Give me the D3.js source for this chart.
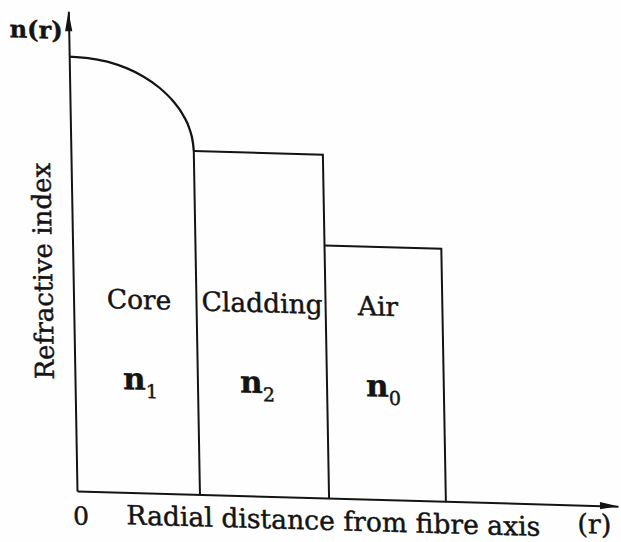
<!DOCTYPE html>
<html>
<head>
<meta charset="utf-8">
<script src="https://cdn.jsdelivr.net/npm/d3@7"></script>
<style>
  html, body { margin: 0; padding: 0; background: #fefefe; }
  svg { display: block; }
  text { font-family: "DejaVu Serif", "Liberation Serif", serif; fill: #141414; stroke: #141414; stroke-width: 0.45px; }
</style>
</head>
<body>
<svg id="chart" width="621" height="542"></svg>
<script>
// Refractive index profile across a fibre: graded-index core, step cladding, then air.
const regions = ["Core", "Cladding", "Air"];
const indexSymbol = "n";
const indexSubscripts = ["1", "2", "0"];
const regionOuterRadius = [1.00, 2.05, 3.00];   // r at the outer edge of each region
const regionIndex = [1.72, 1.36, 1.00];         // n of each region (core: on axis)

// Core profile n(r), falling from the axis value to the cladding value at r = 1
const coreRadius = [0, 0.19, 0.33, 0.47, 0.60, 0.73, 0.84, 0.92, 0.97, 0.995, 1.00];
const coreIndex  = [1.72, 1.714, 1.702, 1.68, 1.65, 1.607, 1.555, 1.50, 1.445, 1.39, 1.36];

const rTicks = [0];
const rMax = 4.40;
const nMax = 1.90;

const axisTitleY = "Refractive index";
const axisTitleX = "Radial distance from fibre axis";
const axisSymbolY = "n(r)";
const axisSymbolX = "(r)";

// ---- layout ----
const ink = "#141414";
const origin = { x: 77, y: 491 };
const svg = d3.select("#chart");

const x = d3.scaleLinear().domain([0, rMax]).range([origin.x, 618]);
const y = d3.scaleLinear().domain([0, nMax]).range([origin.y, 11.25]);

// the printed figure is slightly sheared; keep that slant
const g = svg.append("g")
  .attr("transform", `translate(${origin.x},${origin.y}) matrix(1,0.028,0.018,1,0,0) translate(${-origin.x},${-origin.y})`);

// ---- axes ----
const xAxis = d3.axisBottom(x).tickValues(rTicks).tickSize(0).tickSizeOuter(0)
  .tickPadding(16).tickFormat(d3.format("d"));
const gx = g.append("g").attr("transform", `translate(0,${y(0)})`).call(xAxis);
gx.attr("font-family", null).attr("font-size", null);
gx.select(".domain").attr("stroke", ink).attr("stroke-width", 2);
gx.selectAll(".tick text").attr("fill", ink).attr("font-size", 25).attr("dx", 3);

const yAxis = d3.axisLeft(y).tickValues([]).tickSizeOuter(0);
const gy = g.append("g").attr("transform", `translate(${x(0)},0)`).call(yAxis);
gy.select(".domain").attr("stroke", ink).attr("stroke-width", 2);

// arrowheads
g.append("polygon")
  .attr("points", [[x(rMax), y(0)], [x(rMax) - 18, y(0) - 3.6], [x(rMax) - 18, y(0) + 3.6]].join(" "))
  .attr("fill", ink);
g.append("polygon")
  .attr("points", [[x(0), y(nMax)], [x(0) - 3.6, y(nMax) + 20], [x(0) + 3.6, y(nMax) + 20]].join(" "))
  .attr("fill", ink);

// ---- profile ----
const corePts = coreRadius.map((r, i) => [r, coreIndex[i]]);
const curveLine = d3.line().x(d => x(d[0])).y(d => y(d[1])).curve(d3.curveMonotoneX);
const stepLine = d3.line().x(d => x(d[0])).y(d => y(d[1]));

g.append("path").attr("d", curveLine(corePts))
  .attr("fill", "none").attr("stroke", ink).attr("stroke-width", 2.3);

const innerRadius = [0, ...regionOuterRadius.slice(0, -1)];
regions.forEach((name, i) => {
  const rIn = innerRadius[i], rOut = regionOuterRadius[i];
  const top = i === 0 ? coreIndex[coreIndex.length - 1] : regionIndex[i];
  const pts = i === 0
    ? [[rOut, top], [rOut, 0]]
    : [[rIn, top], [rOut, top], [rOut, 0]];
  g.append("path").attr("d", stepLine(pts))
    .attr("fill", "none").attr("stroke", ink).attr("stroke-width", 2)
    .attr("stroke-linejoin", "miter");
});

// ---- region labels ----
const nameDx = [4, 1, -6];
const symDx = [4, -5, -2];
regions.forEach((name, i) => {
  const mid = x((innerRadius[i] + regionOuterRadius[i]) / 2);
  g.append("text")
    .attr("x", mid + nameDx[i]).attr("y", 307)
    .attr("text-anchor", "middle").attr("font-size", 26.5)
    .text(name);
  const t = g.append("text")
    .attr("x", mid + symDx[i]).attr("y", 388)
    .attr("text-anchor", "middle").attr("font-size", 31).attr("font-weight", "bold");
  t.append("tspan").text(indexSymbol);
  t.append("tspan").attr("dy", 8).attr("font-size", 19).attr("font-weight", "normal").text(indexSubscripts[i]);
});

// ---- axis titles ----
function fitWidth(sel, target) {
  const fs = parseFloat(sel.attr("font-size"));
  const w = sel.node().getComputedTextLength();
  sel.attr("font-size", (fs * target / w).toFixed(2));
}

const ySym = g.append("text").attr("x", 18).attr("y", 39)
  .attr("font-size", 24).attr("font-weight", "bold").text(axisSymbolY);
fitWidth(ySym, 53);

const yTitle = g.append("text")
  .attr("transform", "translate(56,272) rotate(-90)")
  .attr("text-anchor", "middle").attr("font-size", 25).text(axisTitleY);
fitWidth(yTitle, 217);

const xTitle = g.append("text").attr("x", 126).attr("y", 523)
  .attr("font-size", 26).text(axisTitleX);
fitWidth(xTitle, 414);

const xSym = g.append("text").attr("x", 577).attr("y", 519)
  .attr("font-size", 26).text(axisSymbolX);
fitWidth(xSym, 34);
</script>
</body>
</html>
